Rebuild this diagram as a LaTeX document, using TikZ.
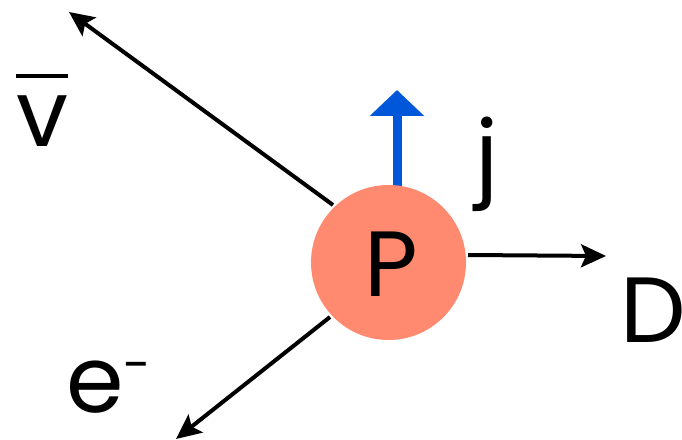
\documentclass[tikz,border=0pt]{standalone}
\usepackage{fontspec}
\setmainfont{Poppins}
\usetikzlibrary{arrows.meta}
\definecolor{salmon}{RGB}{255,138,112}
\definecolor{jblue}{RGB}{0,87,217}
\tikzset{
  lbl/.style={font=\fontsize{93}{100}\selectfont, inner sep=0pt, outer sep=0pt},
  blk/.style={draw=black, line width=4bp, -{Stealth[length=25bp,width=23bp,inset=5bp]}},
  blu/.style={draw=jblue, line width=9bp, -{Triangle[length=26bp,width=53bp]}}
}
\begin{document}
\begin{tikzpicture}[x=1bp,y=-1bp]
\useasboundingbox (0,0) rectangle (682,440);
% blue spin arrow (behind the circle)
\coordinate (jb) at (397,200);
\coordinate (jt) at (397,90);
\draw[blu] (jb) -- (jt);
% particle
\node[circle, fill=salmon, minimum size=155bp, inner sep=0pt] (P) at (388.5,262.5) {};
\node[lbl, anchor=base] (Ptxt) at (391,297) {P};
% free ends
\coordinate (a1) at (333,205);
\coordinate (a1t) at (69,12);
\coordinate (a2) at (468,255);
\coordinate (a2t) at (606,256);
\coordinate (a3) at (330,317);
\coordinate (a3t) at (176,439);
\draw[blk] (a1) -- (a1t);
\draw[blk] (a2) -- (a2t);
\draw[blk] (a3) -- (a3t);
% labels
\node[lbl, anchor=base] (nu) at (42,147) {\rlap{\rule[0.745em]{0.56em}{0.045em}}v};
\node[lbl, anchor=base] (j) at (487,188) {j};
\node[lbl, anchor=base west] (D) at (620,342) {D};
\node[lbl, anchor=base west] (e) at (66,412) {e\raisebox{0.32em}{\fontsize{50}{50}\selectfont -}};
\end{tikzpicture}
\end{document}
